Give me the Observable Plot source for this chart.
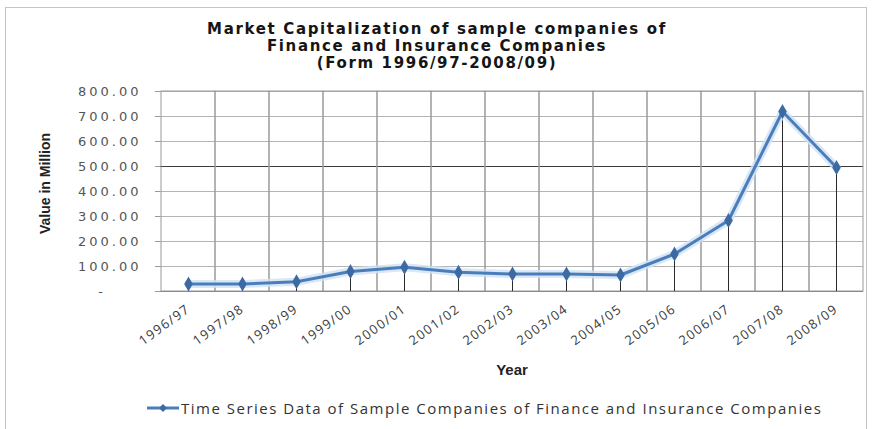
<!DOCTYPE html>
<html>
<head>
<meta charset="utf-8">
<script src="https://cdn.jsdelivr.net/npm/d3@7"></script>
<script src="https://cdn.jsdelivr.net/npm/@observablehq/plot@0.6"></script>
<style>
  body { margin: 0; background: #fff; }
  #chart { position: relative; width: 874px; height: 429px; overflow: hidden; background: #fff; }
  #frame { position: absolute; left: 5px; top: 7px; width: 862px; height: 440px; border: 1px solid #c4c4c4; box-sizing: border-box; }
  #title { position: absolute; left: 0; top: 21px; width: 874px; text-align: center;
           font: bold 15px "DejaVu Sans", sans-serif; line-height: 17px; color: #151515; letter-spacing: 1.65px; }
  #plot { position: absolute; left: 0; top: 0; }
  #legend { position: absolute; left: 146px; top: 398px; display: flex; align-items: center;
            font: 15px "Open Sans", sans-serif; color: #333; letter-spacing: 1.5px; white-space: nowrap; }
  #legend svg { margin-right: 1px; }
</style>
</head>
<body>
<div id="chart">
  <div id="frame"></div>
  <div id="plot"></div>
  <div id="title">Market Capitalization of sample companies of<br>Finance and Insurance Companies<br>(Form 1996/97-2008/09)</div>
  <div id="legend">
    <svg width="34" height="12"><line x1="1" y1="6" x2="33" y2="6" stroke="#4a7ebb" stroke-width="3"/><path d="M17,2 L21,6 L17,10 L13,6 Z" fill="#3d6aa3"/></svg>
    <span>Time Series Data of Sample Companies of Finance and Insurance Companies</span>
  </div>
</div>
<script>
// Fiscal years on the category axis
const years = ["1996/97", "1997/98", "1998/99", "1999/00", "2000/01", "2001/02", "2002/03",
               "2003/04", "2004/05", "2005/06", "2006/07", "2007/08", "2008/09"];
// Market capitalization, value in million
const values = [30, 30, 39, 80, 97, 77, 70, 70, 66, 150, 284, 720, 496];
// Value-axis ticks
const yTicks = [0, 100, 200, 300, 400, 500, 600, 700, 800];

const data = years.map((year, i) => ({year, value: values[i]}));

const chart = Plot.plot({
  width: 874,
  height: 429,
  marginLeft: 160,
  marginRight: 11,
  marginTop: 91,
  marginBottom: 138,
  style: {background: "transparent", fontFamily: "DejaVu Sans, sans-serif", overflow: "visible"},
  x: {type: "band", domain: years, padding: 0},
  y: {domain: [0, 800]},
  marks: [
    // horizontal gridlines
    Plot.ruleY(yTicks.filter(d => d !== 500 && d !== 0), {stroke: "#b4b4b4", strokeWidth: 1}),
    Plot.ruleY(yTicks.filter(d => d === 500), {stroke: "#3c3c3c", strokeWidth: 1}),
    // vertical gridlines at the category boundaries
    Plot.barY(years, {x: d => d, y1: 0, y2: 800, fill: "none", stroke: "#9a9a9a", strokeWidth: 1}),
    Plot.ruleY([0], {stroke: "#8a8a8a", strokeWidth: 1.2}),
    // drop lines from each point to the axis
    Plot.ruleX(data, {x: "year", y1: 0, y2: "value", stroke: "#2a2a2a", strokeWidth: 1}),
    // the series, with a soft glow underneath
    Plot.line(data, {x: "year", y: "value", stroke: "#cfe1f5", strokeWidth: 8, strokeOpacity: 0.8}),
    Plot.line(data, {x: "year", y: "value", stroke: "#4a7ebb", strokeWidth: 3}),
    Plot.dot(data, {x: "year", y: "value", symbol: "diamond", r: 3.6, fill: "#3d6aa3", stroke: "#3d6aa3"}),
    // axes
    Plot.axisY(yTicks, {
      tickSize: 5, tickPadding: 14, stroke: "#999",
      tickFormat: d => d === 0 ? "-\u00a0\u00a0\u00a0\u00a0\u00a0" : d.toFixed(2),
      fontSize: 13, fill: "#555", label: null
    }),
    Plot.axisX({
      tickSize: 0, tickPadding: 16, tickRotate: -36,
      fontSize: 13, fontFamily: "Open Sans, sans-serif", fill: "#3a3a3a", label: null
    }),
    // axis titles
    Plot.text(["Year"], {frameAnchor: "bottom", dy: 83, fontWeight: "bold", fontSize: 15,
                         fontFamily: "Liberation Sans, sans-serif", fill: "#222"}),
    Plot.text(["Value in Million"], {frameAnchor: "left", textAnchor: "middle", dx: -115, dy: -8, rotate: -90,
                                     fontWeight: "bold", fontSize: 14,
                                     fontFamily: "Liberation Sans Narrow, Liberation Sans, sans-serif", fill: "#222"})
  ]
});

document.getElementById("plot").appendChild(chart);

// widen the value-axis labels and the rotated year labels
d3.select(chart).selectAll("g[aria-label='y-axis tick label'] text").style("letter-spacing", "3px");
d3.select(chart).selectAll("g[aria-label='x-axis tick label'] text").style("letter-spacing", "1.4px");
</script>
</body>
</html>
